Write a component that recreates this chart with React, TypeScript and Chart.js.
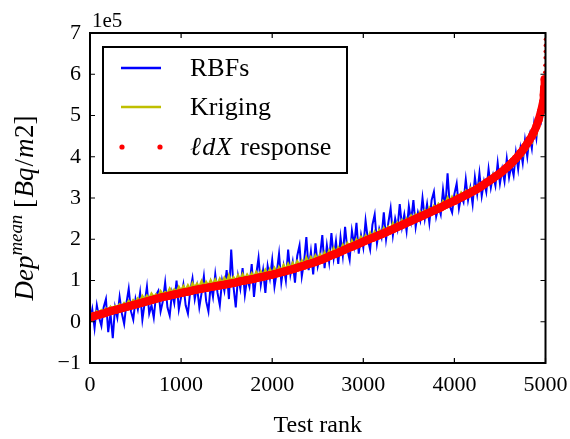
import React, { useEffect, useRef } from "react";
import { Chart, registerables } from "chart.js";

Chart.register(...registerables);

// ---- data (values in units of 1e5 Bq/m2) ----
const RANK_STEP = 25; // series sampled every 25 test ranks

const RBF_VALUES = [
  0.00, 0.30, -0.15, 0.40, 0.10, -0.10, 0.35, 0.55, -0.25, 0.20,
  -0.40, 0.35, 0.10, 0.60, 0.20, -0.05, 0.45, 0.80, 0.25, 0.05,
  0.55, 0.30, 0.70, 0.05, 0.45, 0.85, 0.20, 0.40, 0.10, 0.65,
  0.75, 0.25, 0.50, 0.95, 0.35, 0.15, 0.70, 0.45, 1.00, 0.30,
  0.60, 0.90, 0.40, 0.20, 0.75, 1.05, 0.55, 0.85, 0.35, 0.70,
  1.10, 0.50, 0.25, 0.90, 0.60, 1.15, 0.70, 0.40, 1.00, 0.75,
  1.25, 0.55, 1.75, 0.85, 0.35, 1.10, 0.80, 1.30, 0.65, 1.05,
  0.85, 1.40, 0.60, 1.15, 1.55, 0.90, 1.25, 0.70, 1.35, 1.05,
  1.50, 0.85, 1.20, 1.65, 0.95, 1.35, 1.00, 1.75, 1.15, 1.45,
  0.95, 1.60, 1.85, 1.10, 1.45, 2.05, 1.25, 1.70, 1.15, 1.90,
  1.35, 1.60, 2.10, 1.30, 1.85, 1.45, 2.15, 1.55, 1.95, 1.40,
  2.05, 1.60, 2.30, 1.75, 1.50, 2.20, 1.85, 2.40, 1.65, 2.10,
  1.80, 2.45, 2.00, 1.75, 2.35, 2.60, 1.90, 2.25, 2.05, 2.65,
  2.00, 2.40, 2.75, 2.10, 2.50, 2.25, 2.85, 2.30, 2.60, 2.20,
  2.80, 2.45, 2.95, 2.30, 2.65, 2.45, 3.00, 2.50, 2.85, 2.40,
  2.95, 3.15, 2.55, 2.80, 2.60, 3.20, 2.75, 3.60, 2.80, 2.65,
  3.10, 3.35, 2.75, 3.05, 2.90, 3.45, 2.95, 3.25, 2.85, 3.50,
  3.10, 3.60, 3.05, 3.40, 3.15, 3.70, 3.25, 3.55, 3.30, 3.85,
  3.35, 3.70, 3.40, 3.95, 3.50, 3.80, 3.55, 4.10, 3.70, 4.20,
  3.85, 4.40, 4.00, 4.50, 4.20, 4.80, 4.45, 5.00, 4.85, 5.20,
  5.35,
];

const KRIGING_VALUES = [
  0.15, 0.20, 0.15, 0.25, 0.20, 0.28, 0.24, 0.32, 0.28, 0.36,
  0.30, 0.38, 0.33, 0.42, 0.37, 0.45, 0.40, 0.50, 0.43, 0.52,
  0.47, 0.56, 0.50, 0.62, 0.53, 0.63, 0.56, 0.68, 0.60, 0.66,
  0.62, 0.74, 0.66, 0.72, 0.68, 0.80, 0.70, 0.78, 0.72, 0.84,
  0.74, 0.86, 0.76, 0.88, 0.78, 0.93, 0.82, 0.92, 0.84, 0.98,
  0.85, 0.96, 0.87, 1.00, 0.89, 1.02, 0.91, 1.04, 0.93, 1.06,
  0.95, 1.12, 0.97, 1.08, 0.99, 1.12, 1.01, 1.15, 1.03, 1.14,
  1.05, 1.17, 1.07, 1.20, 1.10, 1.22, 1.12, 1.25, 1.15, 1.27,
  1.17, 1.30, 1.20, 1.32, 1.23, 1.37, 1.26, 1.40, 1.29, 1.42,
  1.32, 1.46, 1.36, 1.48, 1.39, 1.55, 1.42, 1.56, 1.46, 1.60,
  1.50, 1.63, 1.54, 1.68, 1.58, 1.72, 1.63, 1.78, 1.67, 1.80,
  1.72, 1.86, 1.76, 1.90, 1.81, 1.96, 1.85, 1.99, 1.90, 2.05,
  1.95, 2.08, 2.00, 2.15, 2.04, 2.18, 2.09, 2.22, 2.13, 2.27,
  2.18, 2.30, 2.23, 2.38, 2.28, 2.40, 2.33, 2.46, 2.38, 2.50,
  2.43, 2.57, 2.48, 2.60, 2.53, 2.66, 2.58, 2.70, 2.63, 2.76,
  2.68, 2.80, 2.73, 2.85, 2.78, 2.92, 2.84, 3.00, 2.89, 3.02,
  2.92, 3.06, 2.98, 3.12, 3.03, 3.17, 3.08, 3.23, 3.13, 3.27,
  3.19, 3.34, 3.26, 3.40, 3.33, 3.48, 3.40, 3.56, 3.47, 3.62,
  3.55, 3.70, 3.63, 3.80, 3.72, 3.90, 3.82, 4.00, 3.93, 4.12,
  4.05, 4.26, 4.20, 4.42, 4.36, 4.62, 4.55, 4.88, 4.90, 5.30,
  5.60,
];

// response sampled every 25 ranks for 0..4975, then the steep tail
const RESPONSE_MAIN = [
  0.10, 0.12, 0.14, 0.155, 0.17, 0.185, 0.20, 0.22, 0.24, 0.255,
  0.27, 0.285, 0.30, 0.315, 0.33, 0.345, 0.36, 0.375, 0.39, 0.405,
  0.42, 0.435, 0.45, 0.465, 0.48, 0.495, 0.51, 0.525, 0.54, 0.555,
  0.57, 0.585, 0.60, 0.61, 0.62, 0.635, 0.65, 0.66, 0.67, 0.685,
  0.70, 0.71, 0.72, 0.73, 0.74, 0.755, 0.77, 0.78, 0.79, 0.80,
  0.81, 0.82, 0.83, 0.84, 0.85, 0.86, 0.87, 0.88, 0.89, 0.90,
  0.91, 0.92, 0.93, 0.94, 0.95, 0.965, 0.98, 0.99, 1.00, 1.01,
  1.02, 1.03, 1.04, 1.055, 1.07, 1.08, 1.09, 1.105, 1.12, 1.13,
  1.14, 1.155, 1.17, 1.185, 1.20, 1.215, 1.23, 1.245, 1.26, 1.275,
  1.29, 1.31, 1.33, 1.345, 1.36, 1.38, 1.40, 1.415, 1.43, 1.45,
  1.47, 1.49, 1.51, 1.535, 1.56, 1.585, 1.61, 1.63, 1.65, 1.675,
  1.70, 1.725, 1.75, 1.775, 1.80, 1.82, 1.84, 1.865, 1.89, 1.915,
  1.94, 1.965, 1.99, 2.01, 2.03, 2.055, 2.08, 2.10, 2.12, 2.145,
  2.17, 2.195, 2.22, 2.245, 2.27, 2.295, 2.32, 2.345, 2.37, 2.395,
  2.42, 2.445, 2.47, 2.495, 2.52, 2.545, 2.57, 2.595, 2.62, 2.645,
  2.67, 2.695, 2.72, 2.745, 2.77, 2.80, 2.83, 2.855, 2.88, 2.905,
  2.93, 2.96, 2.99, 3.015, 3.04, 3.07, 3.10, 3.13, 3.16, 3.19,
  3.22, 3.255, 3.29, 3.33, 3.37, 3.405, 3.44, 3.48, 3.52, 3.56,
  3.60, 3.645, 3.69, 3.74, 3.79, 3.845, 3.90, 3.96, 4.02, 4.09,
  4.16, 4.24, 4.32, 4.41, 4.50, 4.61, 4.74, 4.90, 5.10, 5.35,
];
const RESPONSE_TAIL_RANKS = [4980, 4985, 4990, 4993, 4995, 4997, 4998, 4999, 5000];
const RESPONSE_TAIL = [5.50, 5.68, 5.88, 6.05, 6.22, 6.40, 6.55, 6.70, 6.85];
const DENSE_LIMIT = 5.95; // above this the response dots are sparse

const X_TICKS = [0, 1000, 2000, 3000, 4000, 5000];
const Y_TICKS = [-1, 0, 1, 2, 3, 4, 5, 6, 7];

const SERIES_LABELS = ["RBFs", "Kriging", "\u2113dX response"];
const COLORS = { rbf: "#0000ff", kriging: "#bfbf00", response: "#ff0000" };

const FONT = '"Liberation Serif", "DejaVu Serif", serif';
const TICK_PX = 22;

type Seg = { t: string; it?: boolean; s?: number; rise?: number; gap?: number };

function segWidth(ctx: CanvasRenderingContext2D, segs: Seg[], size: number) {
  let w = 0;
  for (const g of segs) {
    ctx.font = `${g.it ? "italic " : ""}${size * (g.s || 1)}px ${FONT}`;
    w += ctx.measureText(g.t).width + (g.gap || 0) * size;
  }
  return w;
}

function drawSegs(ctx: CanvasRenderingContext2D, segs: Seg[], size: number, x: number, y: number) {
  let cx = x;
  ctx.textBaseline = "alphabetic";
  ctx.textAlign = "left";
  for (const g of segs) {
    ctx.font = `${g.it ? "italic " : ""}${size * (g.s || 1)}px ${FONT}`;
    ctx.fillText(g.t, cx, y - (g.rise || 0) * size);
    cx += ctx.measureText(g.t).width + (g.gap || 0) * size;
  }
}

const decorPlugin = {
  id: "decor",
  afterDraw(chart: any) {
    const { ctx, chartArea: a, scales } = chart;
    const xs = scales.x;
    const ys = scales.y;
    ctx.save();
    ctx.strokeStyle = "#000";
    ctx.fillStyle = "#000";
    // inward ticks on all four sides
    ctx.lineWidth = 1.2;
    const tl = 5;
    ctx.beginPath();
    for (const v of X_TICKS) {
      const px = xs.getPixelForValue(v);
      ctx.moveTo(px, a.bottom);
      ctx.lineTo(px, a.bottom - tl);
      ctx.moveTo(px, a.top);
      ctx.lineTo(px, a.top + tl);
    }
    for (const v of Y_TICKS) {
      const py = ys.getPixelForValue(v);
      ctx.moveTo(a.left, py);
      ctx.lineTo(a.left + tl, py);
      ctx.moveTo(a.right, py);
      ctx.lineTo(a.right - tl, py);
    }
    ctx.stroke();
    // frame
    ctx.lineWidth = 2;
    ctx.strokeRect(a.left, a.top, a.right - a.left, a.bottom - a.top);

    // offset text
    ctx.font = `21px ${FONT}`;
    ctx.textAlign = "left";
    ctx.textBaseline = "alphabetic";
    ctx.fillText("1e5", a.left + 2, a.top - 6);

    // x title
    ctx.font = `24px ${FONT}`;
    ctx.textAlign = "center";
    ctx.fillText("Test rank", (a.left + a.right) / 2, 432);

    // y title (rotated)
    const ySegs: Seg[] = [
      { t: "Dep", it: true },
      { t: "mean", it: true, s: 0.7, rise: 0.42 },
      { t: " [", it: false, gap: 0.05 },
      { t: "Bq", it: true, gap: 0.04 },
      { t: "/", it: false, gap: 0.04 },
      { t: "m", it: true, gap: 0.02 },
      { t: "2]", it: false },
    ];
    const ySize = 27;
    const yw = segWidth(ctx, ySegs, ySize);
    ctx.save();
    ctx.translate(33, 208);
    ctx.rotate(-Math.PI / 2);
    drawSegs(ctx, ySegs, ySize, -yw / 2, 0);
    ctx.restore();

    // legend
    const lx = 103, ly = 47, lw = 244, lh = 126;
    ctx.fillStyle = "#fff";
    ctx.fillRect(lx, ly, lw, lh);
    ctx.lineWidth = 2;
    ctx.strokeStyle = "#000";
    ctx.strokeRect(lx, ly, lw, lh);
    const rows = [68, 107, 147];
    const ds = chart.data.datasets;
    const legSize = 26;
    ctx.lineWidth = 2.5;
    ctx.strokeStyle = ds[2].borderColor;
    ctx.beginPath(); ctx.moveTo(121, rows[0]); ctx.lineTo(161, rows[0]); ctx.stroke();
    ctx.strokeStyle = ds[1].borderColor;
    ctx.beginPath(); ctx.moveTo(121, rows[1]); ctx.lineTo(161, rows[1]); ctx.stroke();
    ctx.fillStyle = ds[0].pointBackgroundColor;
    for (const dx of [122, 160]) {
      ctx.beginPath(); ctx.arc(dx, rows[2], 2.6, 0, Math.PI * 2); ctx.fill();
    }
    ctx.fillStyle = "#000";
    drawSegs(ctx, [{ t: SERIES_LABELS[0] }], legSize, 190, rows[0] + 8);
    drawSegs(ctx, [{ t: SERIES_LABELS[1] }], legSize, 190, rows[1] + 8);
    drawSegs(
      ctx,
      [
        { t: SERIES_LABELS[2].slice(0, 1), it: true, gap: 0.05 },
        { t: SERIES_LABELS[2].slice(1, 2), it: true, gap: 0.03 },
        { t: SERIES_LABELS[2].slice(2, 3), it: true, gap: 0.08 },
        { t: SERIES_LABELS[2].slice(3) },
      ],
      legSize,
      190,
      rows[2] + 8
    );
    ctx.restore();
  },
};

export default function App() {
  const ref = useRef<HTMLCanvasElement>(null);

  useEffect(() => {
    if (!ref.current) return;
    const rbf = RBF_VALUES.map((v, i) => ({ x: i * RANK_STEP, y: v }));
    const kri = KRIGING_VALUES.map((v, i) => ({ x: i * RANK_STEP, y: v }));
    const resp = RESPONSE_MAIN.map((v, i) => ({ x: i * RANK_STEP, y: v })).concat(
      RESPONSE_TAIL.map((v, i) => ({ x: RESPONSE_TAIL_RANKS[i], y: v }))
    );
    const tickFont = { family: FONT, size: TICK_PX };
    const chart = new Chart(ref.current, {
      type: "line",
      data: {
        datasets: [
          {
            label: SERIES_LABELS[2],
            data: resp,
            // dense dots merge into a thick band; sparse dots at the steep tail
            showLine: true,
            borderWidth: 8,
            borderCapStyle: "round",
            borderJoinStyle: "round",
            borderColor: COLORS.response,
            segment: {
              borderColor: (s: any) =>
                s.p1.parsed.y > DENSE_LIMIT ? "rgba(0,0,0,0)" : COLORS.response,
            },
            pointRadius: (c: any) => (c.raw && c.raw.y > DENSE_LIMIT ? 1.8 : 4),
            pointBackgroundColor: COLORS.response,
            pointBorderWidth: 0,
            tension: 0,
            order: 1,
            clip: 0,
          },
          {
            label: SERIES_LABELS[1],
            data: kri,
            borderColor: COLORS.kriging,
            borderWidth: 2.5,
            pointRadius: 0,
            tension: 0,
            order: 2,
            clip: 0,
          },
          {
            label: SERIES_LABELS[0],
            data: rbf,
            borderColor: COLORS.rbf,
            borderWidth: 2,
            pointRadius: 0,
            tension: 0,
            order: 3,
            clip: 0,
          },
        ],
      } as any,
      options: {
        responsive: false,
        animation: false,
        devicePixelRatio: 1,
        events: [],
        layout: { padding: { top: 33, right: 24.5, left: 0, bottom: 0 } },
        plugins: { legend: { display: false }, tooltip: { enabled: false } },
        scales: {
          x: {
            type: "linear",
            min: 0,
            max: 5000,
            grid: { display: false, drawTicks: false },
            border: { display: false },
            ticks: {
              stepSize: 1000,
              font: tickFont,
              color: "#000",
              padding: 9,
              maxRotation: 0,
              callback: (v: any) => String(v),
            },
            afterFit: (s: any) => {
              s.height = 76;
              s.paddingLeft = 0;
              s.paddingRight = 0;
            },
          },
          y: {
            type: "linear",
            min: -1,
            max: 7,
            grid: { display: false, drawTicks: false },
            border: { display: false },
            ticks: {
              stepSize: 1,
              font: tickFont,
              color: "#000",
              padding: 9,
              callback: (v: any) => (v < 0 ? "\u2212" + Math.abs(v) : String(v)),
            },
            afterFit: (s: any) => {
              s.width = 90;
              s.paddingTop = 0;
              s.paddingBottom = 0;
            },
          },
        },
      } as any,
      plugins: [decorPlugin],
    });
    return () => chart.destroy();
  }, []);

  return (
    <div style={{ position: "absolute", left: 0, top: 0, width: 570, height: 439, background: "#fff" }}>
      <canvas ref={ref} width={570} height={439} />
    </div>
  );
}
